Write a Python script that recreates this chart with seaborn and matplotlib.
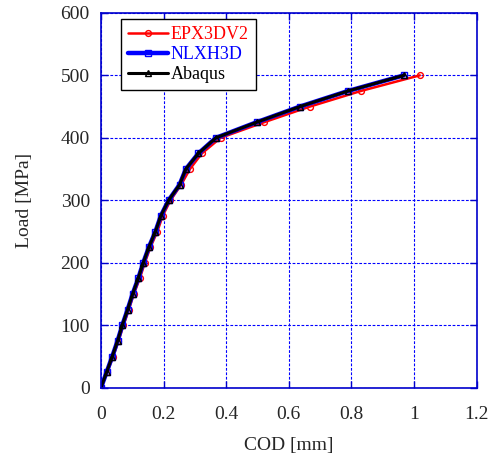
import matplotlib
matplotlib.use("Agg")
import matplotlib.pyplot as plt
import seaborn as sns
import pandas as pd

load = [0, 25, 50, 75, 100, 125, 150, 175, 200, 225, 250, 275, 300, 325, 350, 375, 400, 425, 450, 475, 500]

cod_epx = [0.0, 0.020, 0.039, 0.056, 0.072, 0.089, 0.105, 0.124, 0.140, 0.158, 0.180, 0.197, 0.222, 0.256, 0.284, 0.322, 0.382, 0.521, 0.667, 0.830, 1.018]
cod_nlx = [0.0, 0.018, 0.036, 0.053, 0.068, 0.085, 0.101, 0.119, 0.135, 0.153, 0.174, 0.191, 0.216, 0.251, 0.271, 0.311, 0.367, 0.497, 0.635, 0.789, 0.967]
cod_abq = [0.0, 0.018, 0.036, 0.053, 0.068, 0.085, 0.101, 0.119, 0.135, 0.153, 0.174, 0.191, 0.216, 0.251, 0.271, 0.311, 0.367, 0.497, 0.635, 0.789, 0.967]

series = ["EPX3DV2", "NLXH3D", "Abaqus"]
x_ticks = [0, 0.2, 0.4, 0.6, 0.8, 1, 1.2]
y_ticks = [0, 100, 200, 300, 400, 500, 600]

sns.set_style("white")
plt.rcParams["font.family"] = ["Liberation Serif", "DejaVu Serif"]

fig = plt.figure(figsize=(4.9, 4.59), dpi=100)
ax = fig.add_axes([0.206, 0.155, 0.767, 0.817])

df = pd.concat([
    pd.DataFrame({"COD": cod_epx, "Load": load, "series": series[0]}),
    pd.DataFrame({"COD": cod_nlx, "Load": load, "series": series[1]}),
    pd.DataFrame({"COD": cod_abq, "Load": load, "series": series[2]}),
])

styles = {
    "EPX3DV2": dict(color="#ff0000", marker="o", lw=1.8, ms=4.2),
    "NLXH3D": dict(color="#0000ff", marker="s", lw=3.2, ms=4.2),
    "Abaqus": dict(color="#000000", marker="^", lw=2.2, ms=3.8),
}
for s in series:
    d = df[df["series"] == s]
    st = styles[s]
    sns.lineplot(data=d, x="COD", y="Load", ax=ax, color=st["color"], lw=st["lw"],
                 marker=st["marker"], markersize=st["ms"], markerfacecolor="none",
                 markeredgecolor=st["color"], markeredgewidth=1.0, label=s,
                 sort=False, estimator=None)

ax.set_xlim(0, 1.2)
ax.set_ylim(0, 600)
ax.set_xticks(x_ticks)
ax.set_xticklabels(["0", "0.2", "0.4", "0.6", "0.8", "1", "1.2"])
ax.set_yticks(y_ticks)
ax.set_yticklabels([str(v) for v in y_ticks])
ax.grid(True, color="#0000ff", linestyle=(0, (2.5, 1.5)), linewidth=0.8)
for sp in ax.spines.values():
    sp.set_color("#0000cc")
    sp.set_linewidth(1.2)
    sp.set_visible(True)
ax.tick_params(direction="in", color="#0000cc", length=5, width=1.0, labelsize=14,
               top=True, right=True, bottom=True, left=True)
ax.tick_params(axis="x", pad=13)
ax.tick_params(axis="y", pad=8)
ax.set_xlabel("COD [mm]", fontsize=14, labelpad=10)
ax.set_ylabel("Load [MPa]", fontsize=14, labelpad=20)

leg = ax.legend(loc="upper left", bbox_to_anchor=(0.053, 0.984), fontsize=13,
                frameon=True, fancybox=False, edgecolor="black", framealpha=1,
                handlelength=2.2, borderpad=0.4, labelspacing=0.17, handletextpad=0.15,
                borderaxespad=0)
leg.get_frame().set_linewidth(1.0)
colors = ["#ff0000", "#0000ff", "#000000"]
for t, c in zip(leg.get_texts(), colors):
    t.set_color(c)

fig.savefig("out.png", dpi=100)
